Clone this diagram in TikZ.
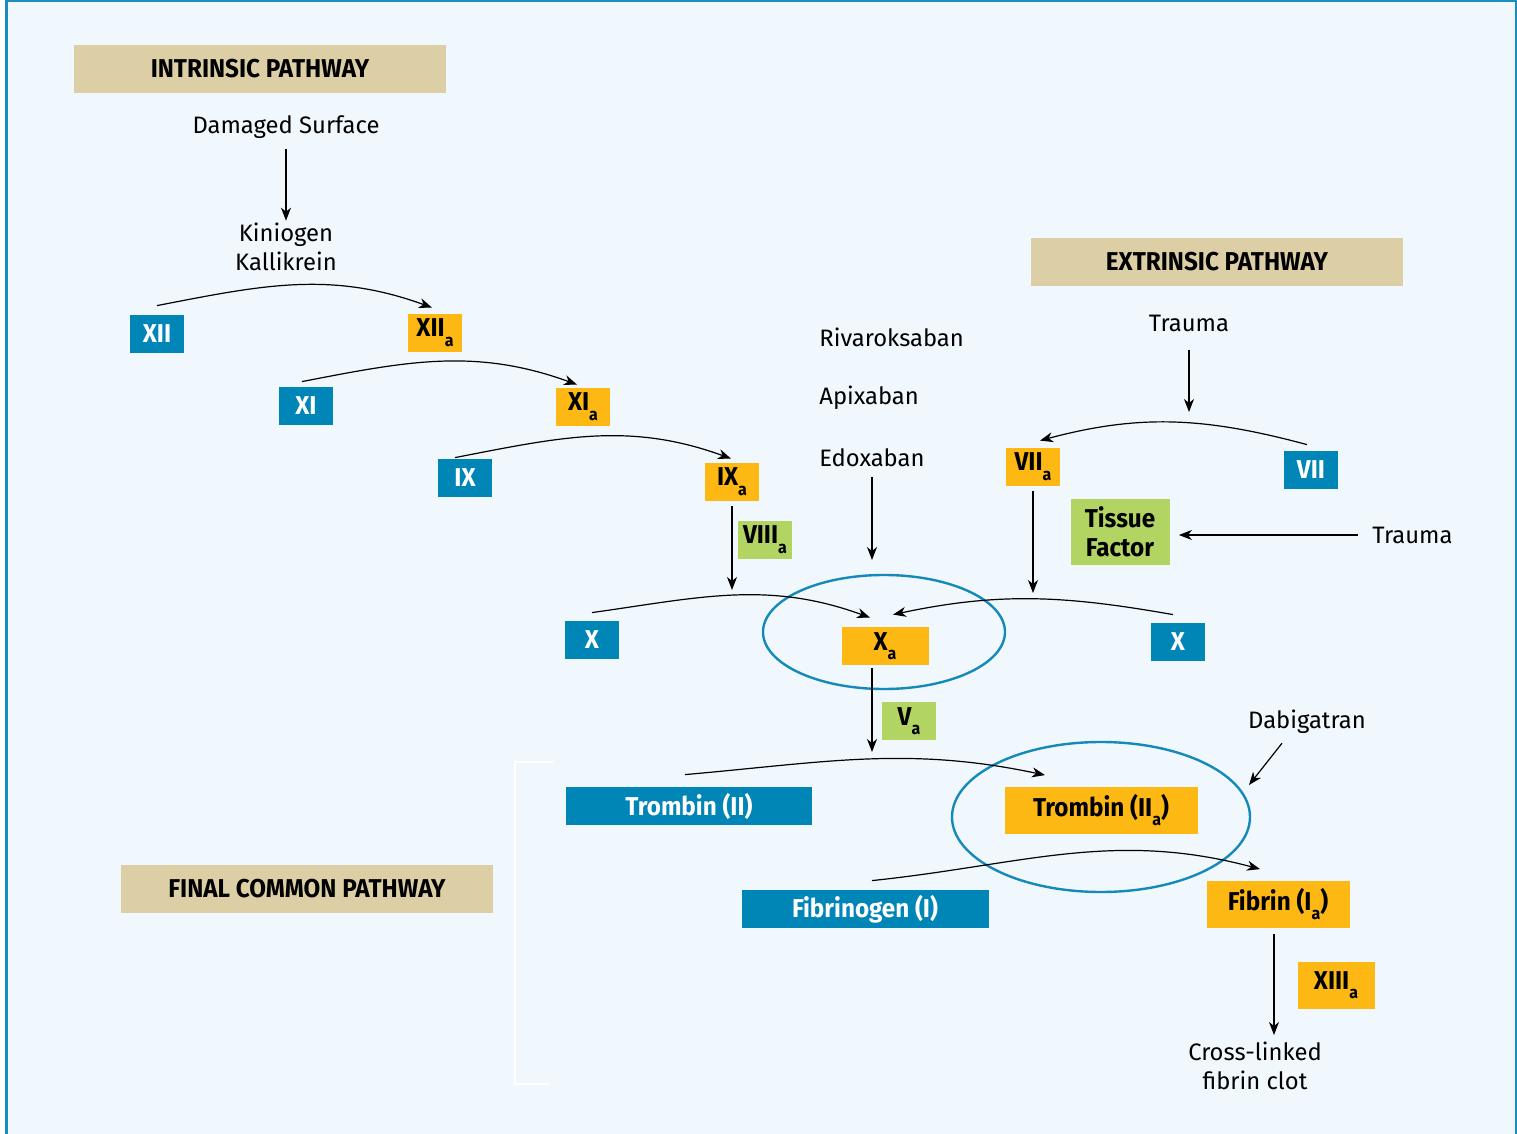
\documentclass[tikz,border=0pt]{standalone}
\usepackage{fontspec}
\setmainfont{Fira Sans}
\newfontfamily\condfont[FakeStretch=0.94]{Fira Sans}
\usetikzlibrary{arrows.meta}

\definecolor{bgblue}{HTML}{F0F8FD}
\definecolor{frameblue}{HTML}{1A8DC0}
\definecolor{boxblue}{HTML}{0085B7}
\definecolor{boxorange}{HTML}{FDB813}
\definecolor{boxgreen}{HTML}{B1D463}
\definecolor{titletan}{HTML}{DDCFA5}
\definecolor{ringblue}{HTML}{1589B9}

\newcommand{\suba}{\raisebox{-0.7ex}{\fontsize{8.5}{9}\selectfont a}}

\begin{document}
\begin{tikzpicture}[x=0.5pt,y=0.5pt,
    factor/.style={rectangle, inner sep=0pt, font=\condfont\bfseries\fontsize{12.9}{14}\selectfont,
      minimum width=27pt, minimum height=19pt},
    inact/.style={factor, fill=boxblue, text=white},
    act/.style={factor, fill=boxorange},
    cof/.style={factor, fill=boxgreen},
    title/.style={rectangle, fill=titletan, minimum width=186pt, minimum height=24pt,
      font=\condfont\bfseries\fontsize{12.9}{14}\selectfont},
    lbl/.style={inner sep=0pt, align=center, font=\fontsize{11.9}{14.5}\selectfont},
    arr/.style={-{Stealth[length=6.5pt,width=5pt,inset=2pt]}, line width=0.6pt},
    ring/.style={draw=ringblue, line width=1.2pt}]

    % Fundo e moldura
    \useasboundingbox (0,0) rectangle (1517,-1134);
    \fill[bgblue] (6,0) rectangle (1517,-1134);
    \draw[frameblue, line width=1.5pt] (6,-1134) -- (6,-1) -- (1516,-1) -- (1516,-1134);
    \draw[white, line width=1pt] (553,-762) -- (515,-762) -- (515,-1084) -- (549,-1084);

    % Titulos
    \node[title] (intr) at (260,-69) {INTRINSIC PATHWAY};
    \node[title] (extr) at (1217,-262) {EXTRINSIC PATHWAY};
    \node[title] (fcp) at (307,-889) {FINAL COMMON PATHWAY};

    % Via intrinseca
    \node[lbl] (dmg) at (286,-127) {Damaged Surface};
    \node[lbl] (kin) at (286,-247) {Kiniogen\\Kallikrein};
    \node[inact] (f12) at (157,-334) {XII};
    \node[act] (f12a) at (435,-333) {XII\suba};
    \node[inact] (f11) at (306,-406) {XI};
    \node[act] (f11a) at (583,-407) {XI\suba};
    \node[inact] (f9) at (465,-478) {IX};
    \node[act] (f9a) at (732,-482) {IX\suba};
    \node[cof] (f8a) at (765,-540) {VIII\suba};

    % Via extrinseca
    \node[lbl] (trauma1) at (1189,-323) {Trauma};
    \node[act] (f7a) at (1033,-467) {VII\suba};
    \node[inact] (f7) at (1311,-470) {VII};
    \node[cof, minimum width=49.5pt, minimum height=33pt, align=center,
      font=\condfont\bfseries\fontsize{12.9}{14.5}\selectfont] (tf) at (1120,-532) {Tissue\\Factor};
    \node[lbl, anchor=west] (trauma2) at (1372,-535) {Trauma};

    % Inibidores do fator Xa
    \node[lbl, anchor=west] (riva) at (819,-337) {Rivaroksaban};
    \node[lbl, anchor=west] (apix) at (819,-398) {Apixaban};
    \node[lbl, anchor=west] (edox) at (819,-458) {Edoxaban};

    % Fator X
    \node[inact] (f10l) at (592,-640) {X};
    \node[act, minimum width=43.5pt] (f10a) at (885,-646) {X\suba};
    \node[inact] (f10r) at (1178,-642) {X};
    \node[cof] (f5a) at (909,-721) {V\suba};

    % Via comum
    \node[inact, minimum width=123pt] (pro) at (689,-806) {Trombin (II)};
    \node[act, minimum width=96.5pt, minimum height=23.5pt] (thr) at (1101,-810) {Trombin (II\suba)};
    \node[lbl] (dabi) at (1307,-722) {Dabigatran};
    \node[inact, minimum width=123.5pt] (fbg) at (865,-909) {Fibrinogen (I)};
    \node[act, minimum width=71.5pt, minimum height=23.5pt] (fbn) at (1278,-904) {Fibrin (I\suba)};
    \node[act, minimum width=38.5pt, minimum height=23.5pt] (f13a) at (1336,-985) {XIII\suba};
    \node[lbl] (clot) at (1255,-1066) {Cross-linked\\fibrin clot};

    % Elipses
    \draw[ring] (884,-632) ellipse [x radius=121, y radius=57];
    \draw[ring] (1101,-817) ellipse [x radius=149, y radius=75];

    % Pontos livres
    \coordinate (hitVII) at (1189,-412);
    \coordinate (hitIX) at (732,-590);
    \coordinate (hitEdox) at (872,-560);
    \coordinate (hitVIIa) at (1033,-593);
    \coordinate (hitXa) at (872,-752);
    \coordinate (hitDabi) at (1249,-785);
    \coordinate (hitClot) at (1274,-1035);

    % Setas retas
    \draw[arr, shorten <=5pt, shorten >=1pt] (dmg) -- (kin);
    \draw[arr] ([yshift=-9pt]trauma1.south) -- (hitVII);
    \draw[arr, shorten <=7pt, shorten >=4.5pt] (trauma2.west) -- (trauma2.west -| tf.east);
    \draw[arr] ([yshift=-2.5pt]f9a.south) -- (hitIX);
    \draw[arr] ([yshift=-5pt]edox.south -| hitEdox) -- (hitEdox);
    \draw[arr] ([yshift=-2.5pt]f7a.south) -- (hitVIIa);
    \draw[arr] ([xshift=-6.5pt,yshift=-1.5pt]f10a.south) -- (hitXa);
    \draw[arr] ([xshift=-12.5pt,yshift=-4.5pt]dabi.south) -- (hitDabi);
    \draw[arr] ([yshift=-3pt]fbn.south -| hitClot) -- (hitClot);

    % Setas curvas
    \draw[arr] ([yshift=4.5pt]f12.north) to[out=11,in=160] ([xshift=-1.5pt,yshift=3pt]f12a.north);
    \draw[arr] ([xshift=-2pt,yshift=2.5pt]f11.north) to[out=11,in=160] ([xshift=-3pt,yshift=1.5pt]f11a.north);
    \draw[arr] ([xshift=-5pt,yshift=0.5pt]f9.north) to[out=11,in=160] ([xshift=-0.5pt,yshift=2pt]f9a.north);
    \draw[arr] ([yshift=4pt]f10l.north) to[out=8,in=160] ([xshift=-7.5pt,yshift=4.5pt]f10a.north);
    \draw[arr] ([xshift=-2.5pt,yshift=4pt]f10r.north) to[out=170,in=12] ([xshift=4pt,yshift=6pt]f10a.north);
    \draw[arr] ([xshift=-2pt,yshift=3pt]f7.north) to[out=165,in=15] ([xshift=3.5pt,yshift=3.5pt]f7a.north);
    \draw[arr] ([xshift=-2pt,yshift=6pt]pro.north) to[out=5,in=168] ([xshift=-28pt,yshift=5.5pt]thr.north);
    \draw[arr] ([xshift=3.5pt,yshift=4.5pt]fbg.north) to[out=6,in=165] ([xshift=-9pt,yshift=5.5pt]fbn.north);
\end{tikzpicture}
\end{document}
